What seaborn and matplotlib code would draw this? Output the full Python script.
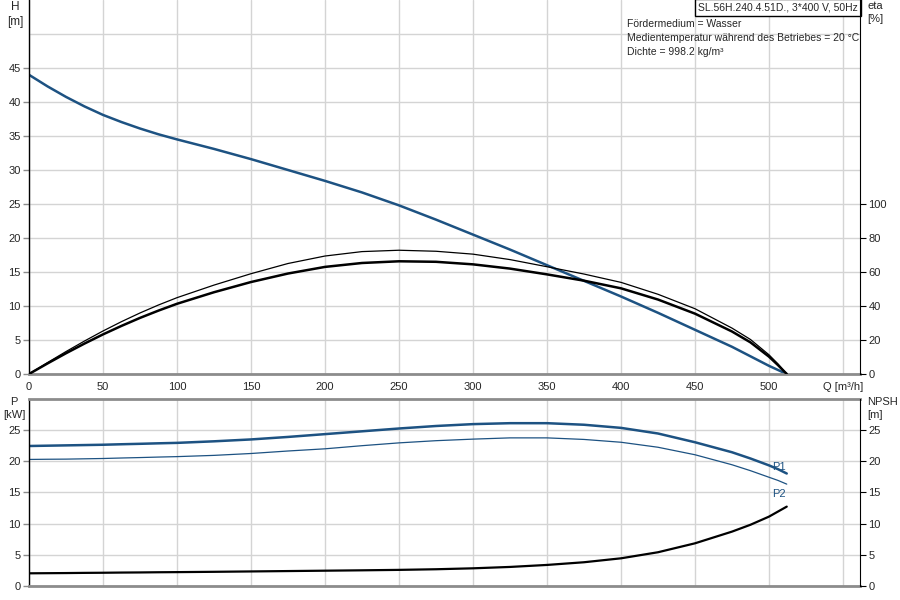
#%% IMPORTS
import numpy as np
import pandas as pd
import seaborn as sns
import matplotlib
matplotlib.use("Agg")
from matplotlib import pyplot as plt

#%% DATA
q = [0, 12.5, 25, 37.5, 50, 62.5, 75, 87.5, 100, 125, 150, 175, 200, 225,
     250, 275, 300, 325, 350, 375, 400, 425, 450, 475, 487.5, 500, 506, 512]

head = [44.0, 42.3, 40.75, 39.35, 38.1, 37.05, 36.1, 35.25, 34.5, 33.1,
        31.6, 30.0, 28.4, 26.7, 24.8, 22.7, 20.5, 18.3, 16.0, 13.7, 11.4,
        9.0, 6.5, 4.0, 2.6, 1.2, 0.6, 0.0]

eta_thick = [0, 6.2, 12.2, 17.9, 23.3, 28.3, 33.0, 37.3, 41.3, 48.1, 54.1,
             59.1, 63.0, 65.3, 66.3, 66.0, 64.5, 62.0, 58.6, 54.9, 50.4,
             43.8, 35.5, 25.0, 18.6, 10.2, 5.3, 0]
eta_thin = [0, 6.7, 13.2, 19.4, 25.3, 30.8, 35.9, 40.6, 44.9, 52.3, 59.0,
            65.0, 69.4, 72.0, 72.8, 72.2, 70.5, 67.3, 63.1, 58.8, 53.9,
            46.9, 38.4, 27.0, 20.3, 11.3, 6.0, 0]

p1 = [22.4, 22.45, 22.5, 22.55, 22.6, 22.68, 22.75, 22.83, 22.9, 23.15,
      23.45, 23.85, 24.3, 24.75, 25.2, 25.6, 25.9, 26.05, 26.05, 25.8, 25.3,
      24.4, 23.0, 21.4, 20.4, 19.3, 18.7, 18.0]
p2 = [20.25, 20.28, 20.3, 20.35, 20.4, 20.48, 20.55, 20.63, 20.7, 20.9,
      21.2, 21.6, 21.95, 22.45, 22.9, 23.25, 23.5, 23.7, 23.7, 23.45, 23.0,
      22.2, 21.0, 19.4, 18.45, 17.4, 16.9, 16.3]
npsh = [2.03, 2.05, 2.07, 2.1, 2.12, 2.15, 2.17, 2.2, 2.22, 2.27, 2.33,
        2.39, 2.45, 2.51, 2.58, 2.68, 2.83, 3.05, 3.37, 3.8, 4.43, 5.4, 6.83,
        8.7, 9.8, 11.1, 11.9, 12.7]

title_box = "SL.56H.240.4.51D., 3*400 V, 50Hz"
info_lines = ["Fördermedium = Wasser",
              "Medientemperatur während des Betriebes = 20 °C",
              "Dichte = 998.2 kg/m³"]

q_ticks = [0, 50, 100, 150, 200, 250, 300, 350, 400, 450, 500, 550]
q_labels = ["0", "50", "100", "150", "200", "250", "300", "350", "400",
            "450", "500", "Q [m³/h]"]

#%% STYLE
sns.set_style("white")
plt.rcParams['font.family'] = ['Liberation Sans', 'DejaVu Sans']
plt.rcParams['font.size'] = 8

BLUE = "#1d5282"
GRID = "#d4d4d4"
AXGRAY = "#8c8c8c"

df = pd.DataFrame({"Q": q, "H": head, "eta1": eta_thick, "eta2": eta_thin,
                   "P1": p1, "P2": p2, "NPSH": npsh})

#%% FIGURE
fig = plt.figure(figsize=(9, 6), dpi=100)
x0, x1 = 29 / 900, 860 / 900
ax_h = fig.add_axes([x0, 1 - 374 / 600, x1 - x0, 374 / 600])
ax_p = fig.add_axes([x0, 1 - 586 / 600, x1 - x0, 187.5 / 600])


def style_axes(ax, ymax, yticks, grid_y):
    ax.set_xlim(0, 561.5)
    ax.set_ylim(0, ymax)
    ax.set_xticks(q_ticks)
    ax.set_yticks(grid_y, minor=True)
    ax.set_yticks(yticks)
    ax.grid(True, which="both", color=GRID, lw=1.0)
    ax.set_axisbelow(True)
    ax.spines["left"].set_color("black")
    ax.spines["left"].set_linewidth(1.0)
    ax.spines["bottom"].set_color(AXGRAY)
    ax.spines["bottom"].set_linewidth(2.0)
    ax.spines["right"].set_visible(False)
    ax.tick_params(axis="both", which="major", direction="out", length=4,
                   width=1, color=AXGRAY, labelsize=8, pad=2)
    ax.tick_params(axis="y", which="minor", length=0)


def style_twin(ax, ymax, yticks):
    ax.set_xlim(0, 561.5)
    ax.set_ylim(0, ymax)
    ax.set_yticks(yticks)
    ax.set_xlabel("")
    ax.set_ylabel("")
    for s in ["top", "left", "bottom"]:
        ax.spines[s].set_visible(False)
    ax.spines["right"].set_color("black")
    ax.tick_params(axis="y", direction="out", length=4, color="black",
                   labelsize=8, pad=2)


# top panel: H and eta
style_axes(ax_h, 55, [0, 5, 10, 15, 20, 25, 30, 35, 40, 45], [50])
ax_h.spines["top"].set_visible(False)
ax_h.set_xticklabels(q_labels)
sns.lineplot(data=df, x="Q", y="H", ax=ax_h, color=BLUE, lw=1.8,
             sort=False, estimator=None)
ax_h.set_xlabel("")
ax_h.set_ylabel("")

ax_eta = ax_h.twinx()
sns.lineplot(data=df, x="Q", y="eta1", ax=ax_eta, color="black", lw=1.8,
             sort=False, estimator=None)
sns.lineplot(data=df, x="Q", y="eta2", ax=ax_eta, color="black", lw=0.9,
             sort=False, estimator=None)
style_twin(ax_eta, 220, [0, 20, 40, 60, 80, 100])

# bottom panel: P and NPSH
style_axes(ax_p, 30, [0, 5, 10, 15, 20, 25], [])
ax_p.spines["top"].set_color(AXGRAY)
ax_p.spines["top"].set_linewidth(2.0)
ax_p.set_xticklabels([])
ax_p.tick_params(axis="x", length=0)
sns.lineplot(data=df, x="Q", y="P1", ax=ax_p, color=BLUE, lw=1.8,
             sort=False, estimator=None)
sns.lineplot(data=df, x="Q", y="P2", ax=ax_p, color=BLUE, lw=0.9,
             sort=False, estimator=None)
ax_p.set_xlabel("")
ax_p.set_ylabel("")

ax_n = ax_p.twinx()
sns.lineplot(data=df, x="Q", y="NPSH", ax=ax_n, color="black", lw=1.6,
             sort=False, estimator=None)
style_twin(ax_n, 30, [0, 5, 10, 15, 20, 25])

# curve labels
ax_p.text(q[-1] - 1, p1[-1] + 0.3, "P1", color=BLUE, fontsize=8,
          ha="right", va="bottom")
ax_p.text(q[-1] - 1, p2[-1] - 0.8, "P2", color=BLUE, fontsize=8,
          ha="right", va="top")

# axis titles
fig.text(15 / 900, 1 - 1 / 600, "H\n[m]", ha="center", va="top",
         fontsize=8.5, linespacing=1.35)
fig.text(867 / 900, 1 - 1 / 600, "eta\n[%]", ha="left", va="top",
         fontsize=8, linespacing=1.35)
fig.text(14 / 900, 1 - 397 / 600, "P\n[kW]", ha="center", va="top",
         fontsize=8, linespacing=1.35)
fig.text(867 / 900, 1 - 397 / 600, "NPSH\n[m]", ha="left", va="top",
         fontsize=8, linespacing=1.35)

# info texts
ax_h.text(0.997, 0.993, title_box, transform=ax_h.transAxes, ha="right",
          va="top", fontsize=7.5,
          bbox=dict(boxstyle="square,pad=0.3", fc="white", ec="black",
                    lw=1.0))
fig.text(627 / 900, 1 - 19 / 600, "\n".join(info_lines), ha="left",
         va="top", fontsize=7.5, linespacing=1.5)

fig.savefig("out.png", dpi=100)
